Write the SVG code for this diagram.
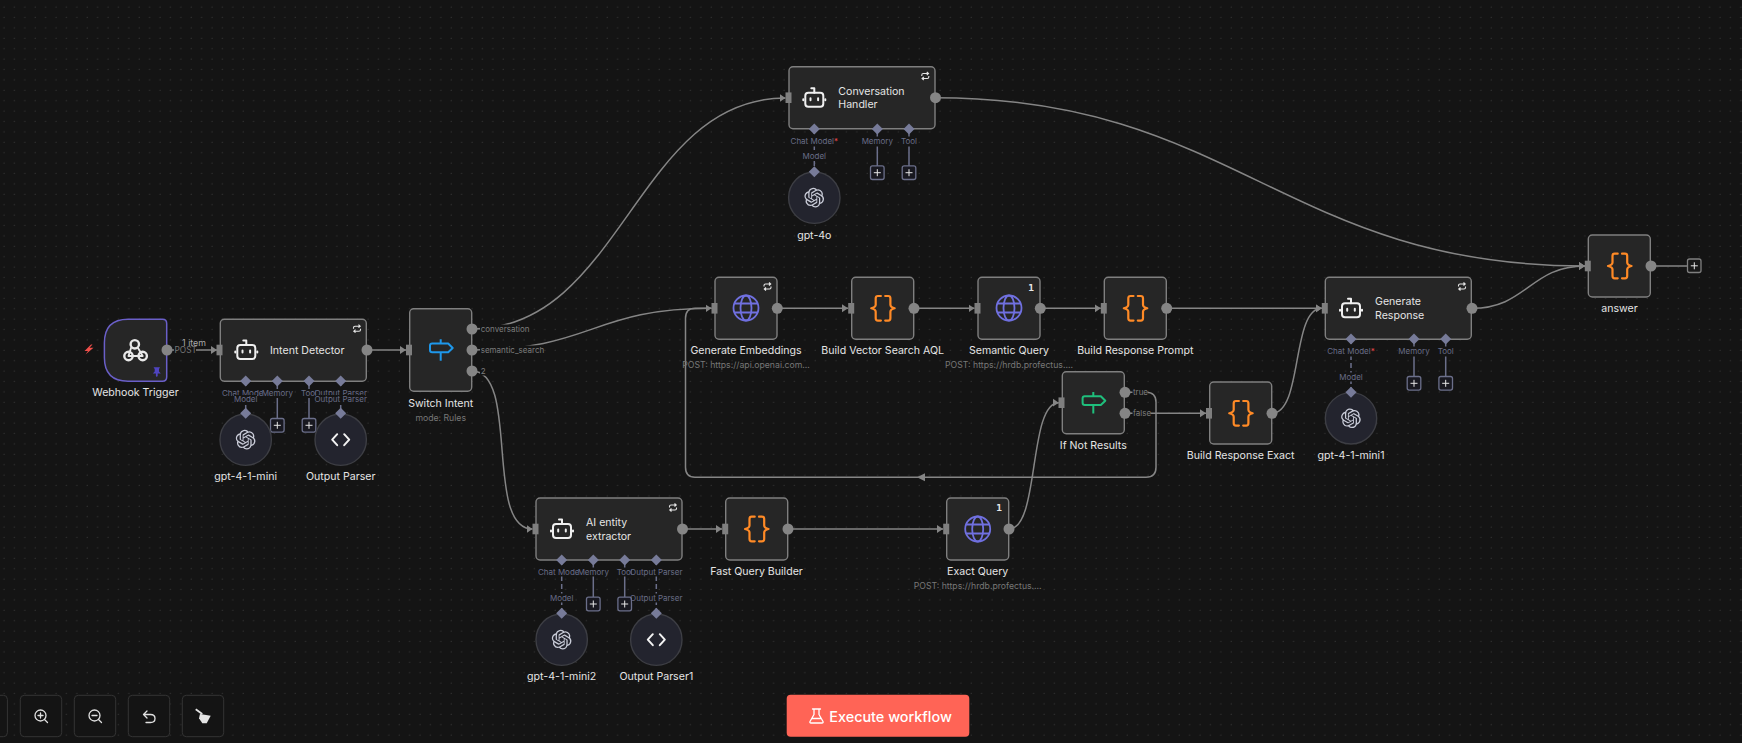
<svg xmlns="http://www.w3.org/2000/svg" width="1742" height="743" viewBox="0 0 1742 743">
<style>
text{font-family:Inter,"Noto Sans","Liberation Sans",sans-serif}
.node{fill:#262626;stroke:#7f7f7f;stroke-width:1.4}
.lbl{font-size:10.6px;font-weight:400;fill:#e4e4e4;text-anchor:middle;dominant-baseline:central}
.lbs{font-size:10.6px;font-weight:400;fill:#e4e4e4;dominant-baseline:central}
.sub{font-size:8.7px;fill:#777;text-anchor:middle;dominant-baseline:central}
.hl{font-size:8px;fill:#696d87;text-anchor:middle;dominant-baseline:central}
.out{font-size:8px;fill:#7d7d7d;dominant-baseline:central}
.bg{fill:#141414}
.dot{fill:#858585}
.inp{fill:#7f7f7f}
.dia{fill:#777b99}
.sl{stroke:#6b6f8a;stroke-width:1.5;fill:none}
.dl{stroke:#6b6f8a;stroke-width:1.5;fill:none;stroke-dasharray:5 3}
.cir{fill:#23242e;stroke:#3d3e44;stroke-width:1.4}
.pb{fill:#181820;stroke:#6b6f8a;stroke-width:1.3}
.pl{stroke:#e6e6e6;stroke-width:1;fill:none}
.c{fill:none;stroke:#858585;stroke-width:1.5}
.tb{fill:#141414;stroke:#343434;stroke-width:1}
.ic{fill:none;stroke:#f0f0f0;stroke-width:2;stroke-linecap:round;stroke-linejoin:round}
</style>
<defs>
<pattern id="grid" x="0" y="2" width="10.4" height="10.4" patternUnits="userSpaceOnUse"><circle cx="4" cy="5" r="0.6" fill="#3c3c3c"/></pattern>
<marker id="arr" markerUnits="userSpaceOnUse" markerWidth="7" markerHeight="10" refX="6" refY="5" orient="auto"><path d="M0 1L6 5L0 9Z" fill="#858585"/></marker>
<symbol id="braces" overflow="visible"><g fill="none" stroke="#ff8a26" stroke-width="2.2" stroke-linejoin="round" stroke-linecap="round"><path d="M-1.800-12.300H-4.800Q-7-12.300-7-10V-3.500Q-7-1-11.500 0Q-7 1-7 3.500V10Q-7 12.300-4.800 12.300H-1.800"/><path d="M2.500-12.300H5.500Q7.700-12.300 7.700-10V-3.500Q7.700-1 12 0Q7.700 1 7.700 3.500V10Q7.700 12.300 5.500 12.300H2.500"/></g></symbol>
<symbol id="globe" overflow="visible"><g fill="none" stroke="#7070e0" stroke-width="1.8"><circle r="12.500"/><ellipse rx="5.500" ry="12.500"/><path d="M-11.500-4.500H11.500M-11.500 4.500H11.500"/></g></symbol>
<symbol id="robot" overflow="visible"><g class="ic"><rect x="-9" y="-5" width="18" height="14" rx="3"/><path d="M0-5V-9.500H-3M-11 1.500V2.500M11 1.500V2.500"/><path d="M-3.800 0.500V2.500M3.800 0.500V2.500"/></g></symbol>
<symbol id="loop" overflow="visible"><g fill="none" stroke="#e6e6e6" stroke-width="1.1"><path d="M-3.500 0V-1Q-3.500-2.500-2-2.500H3M1.500-4L3.200-2.500L1.500-1"/><path d="M3.500 0V1Q3.500 2.500 2 2.500H-3M-1.500 1L-3.200 2.500L-1.500 4"/></g></symbol>
<symbol id="openai" overflow="visible"><path transform="translate(-9.900 -9.900) scale(.82)" fill="#c9ccd8" d="M22.2819 9.8211a5.9847 5.9847 0 0 0-.5157-4.9108 6.0462 6.0462 0 0 0-6.5098-2.9A6.0651 6.0651 0 0 0 4.9807 4.1818a5.9847 5.9847 0 0 0-3.9977 2.9 6.0462 6.0462 0 0 0 .7427 7.0966 5.98 5.98 0 0 0 .511 4.9107 6.051 6.051 0 0 0 6.5146 2.9001A5.9847 5.9847 0 0 0 13.2599 24a6.0557 6.0557 0 0 0 5.7718-4.2058 5.9894 5.9894 0 0 0 3.9977-2.9001 6.0557 6.0557 0 0 0-.7475-7.0729zm-9.022 12.6081a4.4755 4.4755 0 0 1-2.8764-1.0408l.1419-.0804 4.7783-2.7582a.7948.7948 0 0 0 .3927-.6813v-6.7369l2.02 1.1686a.071.071 0 0 1 .038.052v5.5826a4.504 4.504 0 0 1-4.4945 4.4944zm-9.6607-4.1254a4.4708 4.4708 0 0 1-.5346-3.0137l.142.0852 4.783 2.7582a.7712.7712 0 0 0 .7806 0l5.8428-3.3685v2.3324a.0804.0804 0 0 1-.0332.0615L9.74 19.9502a4.4992 4.4992 0 0 1-6.1408-1.6464zM2.3408 7.8956a4.485 4.485 0 0 1 2.3655-1.9728V11.6a.7664.7664 0 0 0 .3879.6765l5.8144 3.3543-2.0201 1.1685a.0757.0757 0 0 1-.071 0l-4.8303-2.7865A4.504 4.504 0 0 1 2.3408 7.872zm16.5963 3.8558L13.1038 8.364 15.1192 7.2a.0757.0757 0 0 1 .071 0l4.8303 2.7913a4.4944 4.4944 0 0 1-.6765 8.1042v-5.6772a.79.79 0 0 0-.407-.667zm2.0107-3.0231l-.142-.0852-4.7735-2.7818a.7759.7759 0 0 0-.7854 0L9.409 9.2297V6.8974a.0662.0662 0 0 1 .0284-.0615l4.8303-2.7866a4.4992 4.4992 0 0 1 6.6802 4.66zM8.3065 12.863l-2.02-1.1638a.0804.0804 0 0 1-.038-.0567V6.0742a4.4992 4.4992 0 0 1 7.3757-3.4537l-.142.0805L8.704 5.459a.7948.7948 0 0 0-.3927.6813zm1.0976-2.3654l2.602-1.4998 2.6069 1.4998v2.9994l-2.5974 1.4997-2.6067-1.4997Z"/></symbol>
<symbol id="code" overflow="visible"><path d="M-3.500-5.500L-8.500 0L-3.500 5.500M3.500-5.500L8.500 0L3.500 5.500" fill="none" stroke="#f2f2f2" stroke-width="2" stroke-linecap="round" stroke-linejoin="round"/></symbol>
<symbol id="sign" overflow="visible"><path d="M0-10.700V-6.500M0 2.300V10.700M0-6.500H-8.500Q-10.700-6.500-10.700-4.500V0Q-10.700 2.300-8.500 2.300H7.500L12-2L7.500-6.500Z" fill="none" stroke-width="2" stroke-linejoin="round"/></symbol>
<symbol id="plus" overflow="visible"><rect class="pb" x="-6.800" y="-6.800" width="13.600" height="13.600" rx="2"/><path class="pl" d="M-3.500 0H3.500M0-3.500V3.500"/></symbol>
<path id="d" class="dia" d="M0-5.500L5.500 0L0 5.500L-5.500 0Z"/>
<path id="port" class="inp" d="M-3.500-5.300H2.500V5.300H-3.500Z"/>
</defs>
<rect width="1742" height="743" fill="#141414"/>
<rect width="1742" height="743" fill="url(#grid)"/>
<g id="connectors">
<path class="c" marker-end="url(#arr)" d="M167 350H217"/>
<path class="c" marker-end="url(#arr)" d="M367 350H406"/>
<path class="c" marker-end="url(#arr)" d="M472 329C622 329 636 98 785.500 98"/>
<path class="c" marker-end="url(#arr)" d="M472 350C592 350 592 308.300 711.500 308.300"/>
<path class="c" marker-end="url(#arr)" d="M472 371C520 371 484 529 532.500 529"/>
<path class="c" marker-end="url(#arr)" d="M683 529H722"/>
<path class="c" marker-end="url(#arr)" d="M788 529H943"/>
<path class="c" marker-end="url(#arr)" d="M1009 529C1040 529 1028 402.700 1058.800 402.700"/>
<path class="c" marker-end="url(#arr)" d="M777.500 308.300H848"/>
<path class="c" marker-end="url(#arr)" d="M914 308.300H974.500"/>
<path class="c" marker-end="url(#arr)" d="M1040 308.300H1100.800"/>
<path class="c" marker-end="url(#arr)" d="M1167 308.300H1321.800"/>
<path class="c" marker-end="url(#arr)" d="M1125 413.300H1206"/>
<path class="c" marker-end="url(#arr)" d="M1272 413.300C1303 413.300 1291 308.300 1321.800 308.300"/>
<path class="c" marker-end="url(#arr)" d="M1472 308.300C1527 308.300 1530 266 1585 266"/>
<path class="c" marker-end="url(#arr)" d="M935 97.700C1235 97.700 1285 266 1585 266"/>
<path class="c" d="M1125 392.300H1146Q1156 392.300 1156 402.300V467.300Q1156 477.300 1146 477.300H695Q685.500 477.300 685.500 467.300V318.300Q685.500 308.300 695 308.300H711.500"/>
<path d="M917 477.300L925 473.300V481.300Z" fill="#858585"/>
<path class="c" d="M1651 266H1687"/>
<rect class="bg" x="174" y="345.500" width="22" height="9"/>
<text x="194" y="342" style="font-size:8.800px;fill:#aaa;text-anchor:middle;dominant-baseline:central">1 item</text>
<text x="185.700" y="350" style="font-size:8.300px;fill:#777;text-anchor:middle;dominant-baseline:central">POST</text>
</g>
<g id="webhook-trigger">
<path d="M128 319.300H162.500Q166.700 319.300 166.700 323.500V377Q166.700 381.200 162.500 381.200H128Q104.400 381.200 104.400 357.500V343Q104.400 319.300 128 319.300Z" fill="#262626" stroke="#6a5fc8" stroke-width="1.500"/>
<g fill="none" stroke="#e8e8e8" stroke-width="2.400" stroke-linecap="round"><circle cx="134.800" cy="344.300" r="4.200"/><circle cx="128.500" cy="356" r="4.200"/><circle cx="142.700" cy="356" r="4.200"/><path d="M138 348L142.700 356M131 348L128.500 356M128.500 356H142.700" stroke-width="1.900"/></g>
<path d="M153.500 367.300H160L159 369V371.500L160.800 373.500H157.700V376L156.800 377L155.900 376V373.500H152.800L154.700 371.500V369Z" fill="#4f44c0"/>
<path d="M91 344.500L84.500 351H88L85.500 354.500L93.500 347.800H89.500L92.500 344.500Z" fill="#f04f4a"/>
<circle class="dot" cx="167" cy="350" r="5.500"/>
<text class="lbl" x="135.500" y="392">Webhook Trigger</text>
</g>
<g id="intent-detector">
<rect class="node" x="220.300" y="319.300" width="146" height="62" rx="4"/>
<use href="#port" x="220" y="350"/><use href="#robot" x="246.300" y="350"/><use href="#loop" x="357" y="328.700"/>
<text class="lbs" x="270" y="350">Intent Detector</text>
<circle class="dot" cx="367" cy="350" r="5.500"/>
<path class="dl" d="M245.700 381V413"/><path class="sl" d="M277.300 381V418.500M309 381V418.500"/><path class="dl" d="M340.700 381V413"/>
<rect class="bg" x="222" y="389" width="47" height="9"/><text class="hl" x="245.700" y="393">Chat Model<tspan fill="#e8484a">*</tspan></text>
<rect class="bg" x="262.500" y="389" width="31" height="9"/><text class="hl" x="277.300" y="393">Memory</text>
<rect class="bg" x="301" y="389" width="16" height="9"/><text class="hl" x="309" y="393">Tool</text>
<rect class="bg" x="316" y="389" width="49" height="9"/><text class="hl" x="340.700" y="393">Output Parser</text>
<rect class="bg" x="234" y="395" width="23" height="9"/><text class="hl" x="245.700" y="399.300">Model</text>
<rect class="bg" x="316" y="395" width="49" height="9"/><text class="hl" x="340.700" y="399.300">Output Parser</text>
<use href="#d" x="245.700" y="381"/><use href="#d" x="277.300" y="381"/><use href="#d" x="309" y="381"/><use href="#d" x="340.700" y="381"/>
<use href="#plus" x="277.300" y="425.300"/><use href="#plus" x="309" y="425.300"/>
</g>
<g id="gpt-4-1-mini">
<circle class="cir" cx="245.700" cy="439.700" r="25.700"/><use href="#openai" x="245.700" y="439.700"/><use href="#d" x="245.700" y="413.300"/>
<text class="lbl" x="245.700" y="476.300">gpt-4-1-mini</text>
</g>
<g id="output-parser">
<circle class="cir" cx="340.700" cy="439.700" r="25.700"/><use href="#code" x="340.700" y="439.700"/><use href="#d" x="340.700" y="413.300"/>
<text class="lbl" x="340.700" y="476.300">Output Parser</text>
</g>
<g id="switch-intent">
<rect class="node" x="409.700" y="308.700" width="62" height="82.600" rx="4"/>
<use href="#port" x="409.500" y="350"/><use href="#sign" x="440.700" y="350" stroke="#1e97ea"/>
<circle class="dot" cx="472" cy="329" r="5.500"/><circle class="dot" cx="472" cy="350" r="5.500"/><circle class="dot" cx="472" cy="371" r="5.500"/>
<rect class="bg" x="480" y="324.500" width="49" height="9"/><text class="out" x="480.700" y="329.300">conversation</text>
<rect class="bg" x="480" y="345.500" width="63" height="9"/><text class="out" x="480.700" y="350">semantic_search</text>
<rect class="bg" x="480" y="366.500" width="6" height="9"/><text class="out" x="480.700" y="371">2</text>
<text class="lbl" x="440.700" y="403.300">Switch Intent</text>
<text class="sub" x="440.700" y="418">mode: Rules</text>
</g>
<g id="conversation-handler">
<rect class="node" x="789" y="66.700" width="146" height="62" rx="4"/>
<use href="#port" x="789" y="97.700"/><use href="#robot" x="814.300" y="97.700"/><use href="#loop" x="925.300" y="76"/>
<text class="lbs" x="838.300" y="91.300">Conversation</text><text class="lbs" x="838.300" y="104.300">Handler</text>
<circle class="dot" cx="935.500" cy="97.700" r="5.500"/>
<path class="dl" d="M814.300 129V172"/><path class="sl" d="M877.300 129V166M909 129V166"/>
<rect class="bg" x="791" y="136.500" width="48" height="10"/><text class="hl" x="814.300" y="141">Chat Model<tspan fill="#e8484a">*</tspan></text>
<rect class="bg" x="861" y="136.500" width="32" height="10"/><text class="hl" x="877.300" y="141">Memory</text>
<rect class="bg" x="901" y="136.500" width="16" height="10"/><text class="hl" x="909" y="141">Tool</text>
<rect class="bg" x="802" y="151.500" width="23" height="9"/><text class="hl" x="814.300" y="156">Model</text>
<use href="#d" x="814.300" y="129"/><use href="#d" x="877.300" y="129"/><use href="#d" x="909" y="129"/>
<use href="#plus" x="877.300" y="172.700"/><use href="#plus" x="909" y="172.700"/>
</g>
<g id="gpt-4o">
<circle class="cir" cx="814.300" cy="197.700" r="25.700"/><use href="#openai" x="814.300" y="197.700"/><use href="#d" x="814.300" y="171.700"/>
<text class="lbl" x="814.300" y="235">gpt-4o</text>
</g>
<g id="generate-embeddings">
<rect class="node" x="715" y="277.300" width="62" height="62" rx="4"/>
<use href="#port" x="715" y="308.300"/><use href="#globe" x="746" y="308"/><use href="#loop" x="767.500" y="286.500"/>
<circle class="dot" cx="777.300" cy="308.300" r="5.500"/>
<text class="lbl" x="746" y="350.300">Generate Embeddings</text>
<text class="sub" x="746" y="365">POST: https://api.openai.com...</text>
</g>
<g id="build-vector-search-aql">
<rect class="node" x="851.700" y="277.300" width="62" height="62" rx="4"/>
<use href="#port" x="851.700" y="308.300"/><use href="#braces" x="882.700" y="308.300"/>
<circle class="dot" cx="914" cy="308.300" r="5.500"/>
<text class="lbl" x="882.700" y="350.300">Build Vector Search AQL</text>
</g>
<g id="semantic-query">
<rect class="node" x="978" y="277.300" width="62" height="62" rx="4"/>
<use href="#port" x="978" y="308.300"/><use href="#globe" x="1009" y="308"/>
<text x="1031" y="287" style="font-family:'DejaVu Sans Mono','Liberation Mono',monospace;font-size:9.500px;font-weight:700;fill:#e8e8e8;text-anchor:middle;dominant-baseline:central">1</text>
<circle class="dot" cx="1040.300" cy="308.300" r="5.500"/>
<text class="lbl" x="1009" y="350.300">Semantic Query</text>
<text class="sub" x="1009" y="365">POST: https://hrdb.profectus....</text>
</g>
<g id="build-response-prompt">
<rect class="node" x="1104.300" y="277.300" width="62" height="62" rx="4"/>
<use href="#port" x="1104.300" y="308.300"/><use href="#braces" x="1135.300" y="308.300"/>
<circle class="dot" cx="1166.700" cy="308.300" r="5.500"/>
<text class="lbl" x="1135.300" y="350.300">Build Response Prompt</text>
</g>
<g id="if-not-results">
<rect class="node" x="1062.300" y="371.700" width="62" height="62" rx="4"/>
<use href="#port" x="1062" y="402.700"/><use href="#sign" x="1093.300" y="402.700" stroke="#1fbf7c"/>
<circle class="dot" cx="1125" cy="392.300" r="5.500"/><circle class="dot" cx="1125" cy="413.300" r="5.500"/>
<rect class="bg" x="1132.500" y="388" width="15" height="9"/><text class="out" x="1133" y="392.300">true</text>
<rect class="bg" x="1132.500" y="409" width="18" height="9"/><text class="out" x="1133" y="413.300">false</text>
<text class="lbl" x="1093.300" y="445">If Not Results</text>
</g>
<g id="build-response-exact">
<rect class="node" x="1209.700" y="382" width="62" height="62" rx="4"/>
<use href="#port" x="1209.500" y="413.300"/><use href="#braces" x="1240.700" y="413.300"/>
<circle class="dot" cx="1272" cy="413.300" r="5.500"/>
<text class="lbl" x="1240.700" y="455">Build Response Exact</text>
</g>
<g id="generate-response">
<rect class="node" x="1325.300" y="277.300" width="146" height="62" rx="4"/>
<use href="#port" x="1325.300" y="308.300"/><use href="#robot" x="1351" y="308.300"/><use href="#loop" x="1462" y="286.500"/>
<text class="lbs" x="1375" y="301.300">Generate</text><text class="lbs" x="1375" y="315.300">Response</text>
<circle class="dot" cx="1472" cy="308.300" r="5.500"/>
<path class="dl" d="M1351 339V392"/><path class="sl" d="M1414 339V376.500M1445.700 339V376.500"/>
<rect class="bg" x="1328" y="346.500" width="48" height="10"/><text class="hl" x="1351" y="351">Chat Model<tspan fill="#e8484a">*</tspan></text>
<rect class="bg" x="1398" y="346.500" width="32" height="10"/><text class="hl" x="1414" y="351">Memory</text>
<rect class="bg" x="1437.500" y="346.500" width="16" height="10"/><text class="hl" x="1445.700" y="351">Tool</text>
<rect class="bg" x="1339" y="372.500" width="23" height="9"/><text class="hl" x="1351" y="377">Model</text>
<use href="#d" x="1351" y="339"/><use href="#d" x="1414" y="339"/><use href="#d" x="1445.700" y="339"/>
<use href="#plus" x="1414" y="383.300"/><use href="#plus" x="1445.700" y="383.300"/>
</g>
<g id="gpt-4-1-mini1">
<circle class="cir" cx="1351" cy="418.300" r="25.700"/><use href="#openai" x="1351" y="418.300"/><use href="#d" x="1351" y="392.300"/>
<text class="lbl" x="1351" y="455">gpt-4-1-mini1</text>
</g>
<g id="answer">
<rect class="node" x="1588.300" y="235" width="62" height="62" rx="4"/>
<use href="#port" x="1588.300" y="266"/><use href="#braces" x="1619.500" y="266"/>
<circle class="dot" cx="1651" cy="266" r="5.500"/>
<rect x="1687.500" y="259" width="13.500" height="13.500" rx="2" fill="#181818" stroke="#7f7f7f" stroke-width="1.300"/><path class="pl" d="M1690.800 265.800H1697.800M1694.300 262.300V269.300"/>
<text class="lbl" x="1619.500" y="308.700">answer</text>
</g>
<g id="ai-entity-extractor">
<rect class="node" x="536" y="498" width="146" height="62" rx="4"/>
<use href="#port" x="536" y="529"/><use href="#robot" x="562" y="529"/><use href="#loop" x="673" y="507.500"/>
<text class="lbs" x="586" y="522.300">AI entity</text><text class="lbs" x="586" y="536.300">extractor</text>
<circle class="dot" cx="682.500" cy="529" r="5.500"/>
<path class="dl" d="M561.700 560V613"/><path class="sl" d="M593.300 560V597M624.700 560V597"/><path class="dl" d="M656.300 560V613"/>
<rect class="bg" x="538" y="567.500" width="47" height="9"/><text class="hl" x="561.700" y="572">Chat Model<tspan fill="#e8484a">*</tspan></text>
<rect class="bg" x="578.500" y="567.500" width="31" height="9"/><text class="hl" x="593.300" y="572">Memory</text>
<rect class="bg" x="617" y="567.500" width="16" height="9"/><text class="hl" x="624.700" y="572">Tool</text>
<rect class="bg" x="632" y="567.500" width="49" height="9"/><text class="hl" x="656.300" y="572">Output Parser</text>
<rect class="bg" x="550" y="593.500" width="23" height="9"/><text class="hl" x="561.700" y="598">Model</text>
<use href="#d" x="561.700" y="560"/><use href="#d" x="593.300" y="560"/><use href="#d" x="624.700" y="560"/><use href="#d" x="656.300" y="560"/>
<use href="#plus" x="593.300" y="604"/><use href="#plus" x="624.700" y="604"/>
<rect class="bg" x="632" y="593.500" width="49" height="9"/><text class="hl" x="656.300" y="598">Output Parser</text>
</g>
<g id="gpt-4-1-mini2">
<circle class="cir" cx="561.700" cy="639.700" r="25.700"/><use href="#openai" x="561.700" y="639.700"/><use href="#d" x="561.700" y="613.300"/>
<text class="lbl" x="561.700" y="676">gpt-4-1-mini2</text>
</g>
<g id="output-parser1">
<circle class="cir" cx="656.300" cy="639.700" r="25.700"/><use href="#code" x="656.300" y="639.700"/><use href="#d" x="656.300" y="613.300"/>
<text class="lbl" x="656.300" y="676">Output Parser1</text>
</g>
<g id="fast-query-builder">
<rect class="node" x="725.700" y="498" width="62" height="62" rx="4"/>
<use href="#port" x="725.700" y="529"/><use href="#braces" x="756.500" y="529"/>
<circle class="dot" cx="788" cy="529" r="5.500"/>
<text class="lbl" x="756.500" y="571.700">Fast Query Builder</text>
</g>
<g id="exact-query">
<rect class="node" x="946.700" y="498" width="62" height="62" rx="4"/>
<use href="#port" x="946.700" y="529"/><use href="#globe" x="977.700" y="529"/>
<text x="999" y="507.500" style="font-family:'DejaVu Sans Mono','Liberation Mono',monospace;font-size:9.500px;font-weight:700;fill:#e8e8e8;text-anchor:middle;dominant-baseline:central">1</text>
<circle class="dot" cx="1009" cy="529" r="5.500"/>
<text class="lbl" x="977.700" y="571.700">Exact Query</text>
<text class="sub" x="977.700" y="586">POST: https://hrdb.profectus....</text>
</g>
<g id="toolbar">
<rect class="tb" x="-34" y="695.300" width="41.400" height="41.400" rx="4"/>
<rect class="tb" x="20.300" y="695.300" width="41.400" height="41.400" rx="4"/>
<g fill="none" stroke="#e0e0e0" stroke-width="1.300" stroke-linecap="round"><circle cx="40.500" cy="715.500" r="5.500"/><path d="M44.500 719.500L47.500 722.500M38 715.500H43M40.500 713V718"/></g>
<rect class="tb" x="74.300" y="695.300" width="41.400" height="41.400" rx="4"/>
<g fill="none" stroke="#e0e0e0" stroke-width="1.300" stroke-linecap="round"><circle cx="94.500" cy="715.500" r="5.500"/><path d="M98.500 719.500L101.500 722.500M92 715.500H97"/></g>
<rect class="tb" x="128.300" y="695.300" width="41.400" height="41.400" rx="4"/>
<path d="M147 711L143.500 714.500L147 718M143.500 714.500H150.500Q155 714.500 155 718.500Q155 722.500 150.500 722.500H146" fill="none" stroke="#e0e0e0" stroke-width="1.300" stroke-linecap="round" stroke-linejoin="round"/>
<rect class="tb" x="182.300" y="695.300" width="41.400" height="41.400" rx="4"/>
<path d="M195.700 709.300L202.300 714" fill="none" stroke="#e4e4e4" stroke-width="1.800"/>
<path d="M200 714L210.700 715.700L206.700 723.300H202.300L199 718.300Z" fill="#e4e4e4"/>
</g>
<g id="execute-workflow">
<rect x="786.700" y="694.700" width="182.600" height="42" rx="4" fill="#ff6456"/>
<path d="M812.500 709H820.500M814 709V714.500L810 721.500Q809.500 723 811 723H822Q823.500 723 823 721.500L819 714.500V709M812 718.500H821" fill="none" stroke="#fff" stroke-width="1.300" stroke-linejoin="round" stroke-linecap="round"/>
<text x="829.300" y="716" style="font-size:14.400px;font-weight:500;fill:#fff;dominant-baseline:central">Execute workflow</text>
</g>
</svg>
